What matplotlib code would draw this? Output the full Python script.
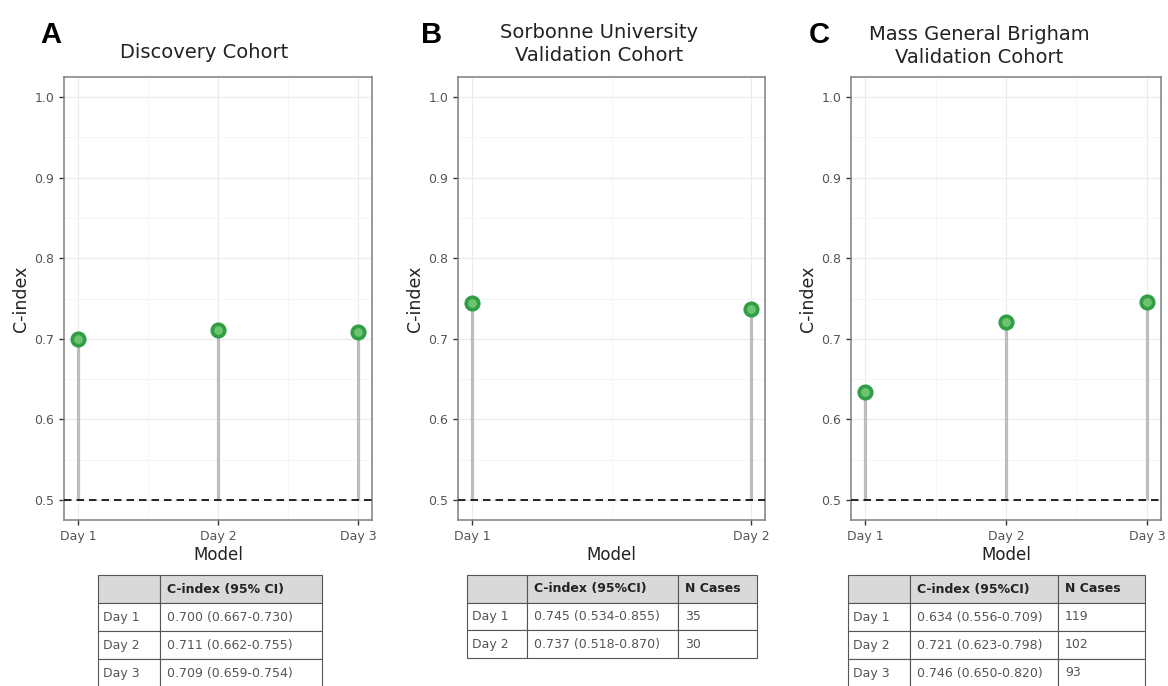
import matplotlib
matplotlib.use('Agg')
import matplotlib.pyplot as plt
from matplotlib.ticker import MultipleLocator

# ---- data ----
titles = ['Discovery Cohort', 'Sorbonne University\nValidation Cohort', 'Mass General Brigham\nValidation Cohort']
letters = ['A', 'B', 'C']

days_a = ['Day 1', 'Day 2', 'Day 3']
cindex_a = [0.700, 0.711, 0.709]
ci_a = ['0.700 (0.667-0.730)', '0.711 (0.662-0.755)', '0.709 (0.659-0.754)']

days_b = ['Day 1', 'Day 2']
cindex_b = [0.745, 0.737]
ci_b = ['0.745 (0.534-0.855)', '0.737 (0.518-0.870)']
ncases_b = ['35', '30']

days_c = ['Day 1', 'Day 2', 'Day 3']
cindex_c = [0.634, 0.721, 0.746]
ci_c = ['0.634 (0.556-0.709)', '0.721 (0.623-0.798)', '0.746 (0.650-0.820)']
ncases_c = ['119', '102', '93']

W, H = 1168, 686
fig = plt.figure(figsize=(W / 100, H / 100), dpi=100)

def rect(l, r, t, b):
    return [l / W, 1 - b / H, (r - l) / W, (b - t) / H]

# pixel layout
ax_x = [(64, 372), (458, 765), (851, 1161)]
title_x = [204, 599, 979]
title_y = [53, 44, 46]
letter_x = [51, 432, 819]

panels = [(days_a, cindex_a), (days_b, cindex_b), (days_c, cindex_c)]

for i, (days, vals) in enumerate(panels):
    l, r = ax_x[i]
    ax = fig.add_axes(rect(l, r, 77, 520))
    x = list(range(1, len(days) + 1))
    n = len(days) - 1
    ax.vlines(x, 0.5, vals, color='#bdbdbd', lw=2.3, zorder=2)
    ax.axhline(0.5, color='black', ls=(0, (4.5, 3)), lw=1.2, zorder=3)
    ax.plot(x, vals, 'o', ms=9, mfc='#6cc46f', mec='#2f9e44', mew=2.6, zorder=4)
    ax.set_xlim(1 - 0.05 * n, len(days) + 0.05 * n)
    ax.set_ylim(0.475, 1.025)
    ax.set_xticks(x)
    ax.set_xticklabels(days)
    ax.xaxis.set_minor_locator(MultipleLocator(0.5))
    ax.yaxis.set_minor_locator(MultipleLocator(0.05))
    ax.set_yticks([0.5, 0.6, 0.7, 0.8, 0.9, 1.0])
    ax.set_yticklabels(['0.5', '0.6', '0.7', '0.8', '0.9', '1.0'])
    ax.grid(which='major', color='#ebebeb', lw=0.9)
    ax.grid(which='minor', color='#f4f4f4', lw=0.6)
    ax.set_axisbelow(True)
    ax.tick_params(which='major', length=3.5, width=1, color='#333333',
                   labelsize=9, labelcolor='#555555')
    ax.tick_params(which='minor', length=0)
    for s in ax.spines.values():
        s.set_color('#7f7f7f')
        s.set_linewidth(1.1)
    ax.set_xlabel('Model', fontsize=12, labelpad=2, color='#222222')
    ax.set_ylabel('C-index', fontsize=12.5, labelpad=3, color='#222222')

    fig.text(title_x[i] / W, 1 - title_y[i] / H, titles[i], ha='center', va='center',
             fontsize=14, color='#222222', linespacing=1.3)
    fig.text(letter_x[i] / W, 1 - 35 / H, letters[i], ha='center', va='center',
             fontsize=21, fontweight='bold', family='Liberation Sans')

# ---- tables ----
tables = [
    (['', 'C-index (95% CI)'], [[d, c] for d, c in zip(days_a, ci_a)],
     (98, 322, 575, 687), [62, 162]),
    (['', 'C-index (95%CI)', 'N Cases'], [[d, c, nc] for d, c, nc in zip(days_b, ci_b, ncases_b)],
     (467, 757, 575, 658), [60, 151, 79]),
    (['', 'C-index (95%CI)', 'N Cases'], [[d, c, nc] for d, c, nc in zip(days_c, ci_c, ncases_c)],
     (848, 1145, 575, 687), [62, 148, 87]),
]

for header, rows, (l, r, t, b), widths in tables:
    tax = fig.add_axes(rect(l, r, t, b))
    tax.axis('off')
    tot = sum(widths)
    tb = tax.table(cellText=[header] + rows, cellLoc='left',
                   colWidths=[w / tot for w in widths], bbox=[0, 0, 1, 1])
    tb.auto_set_font_size(False)
    tb.set_fontsize(9)
    for (ri, ci), cell in tb.get_celld().items():
        cell.set_edgecolor('#555555')
        cell.set_linewidth(0.8)
        cell.PAD = (7.0 if ci else 5.0) / widths[ci]
        txt = cell.get_text()
        if ri == 0:
            cell.set_facecolor('#d9d9d9')
            txt.set_fontweight('bold')
            txt.set_color('#222222')
        else:
            cell.set_facecolor('white')
            txt.set_color('#555555')

fig.savefig('out.png', dpi=100)
